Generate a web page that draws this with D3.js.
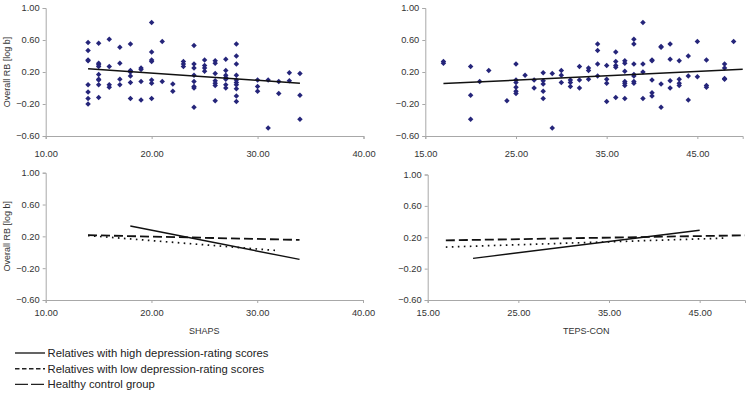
<!DOCTYPE html>
<html><head><meta charset="utf-8">
<script src="https://cdn.jsdelivr.net/npm/d3@7"></script>
<style>
html,body{margin:0;padding:0;background:#fff;}
svg text{font-family:"Liberation Sans",Arial,sans-serif;}
</style></head>
<body><svg id="c" width="750" height="403"></svg>
<script>
// ---------- data ----------
const yTicks = [-0.6, -0.2, 0.2, 0.6, 1.0];
const shapsTicks = [10, 20, 30, 40];
const tepsTicks = [15, 25, 35, 45];
const yTitle = "Overall RB [log b]";
const shapsTitle = "SHAPS";
const tepsTitle = "TEPS-CON";

// SHAPS scatter: [score, overall RB]
const shapsPoints = [
 [14,0.57],[14,0.47],[14,0.35],[14,0.34],[14,0.04],[14,-0.05],[14,-0.13],[14,-0.20],
 [15,0.56],[15,0.31],[15,0.29],[15,0.27],[15,0.17],[15,0.11],[15,0.10],[15,0.04],[15,-0.12],
 [16,0.61],[16,0.27],[16,0.04],[16,0.01],
 [17,0.51],[17,0.31],[17,0.11],[17,0.04],
 [18,0.55],[18,0.22],[18,0.20],[18,0.15],[18,0.07],[18,-0.13],
 [19,0.25],[19,0.23],[19,0.08],[19,-0.15],
 [20,0.82],[20,0.45],[20,0.35],[20,0.33],[20,0.10],[20,0.06],[20,-0.13],
 [21,0.58],[21,0.08],
 [22,0.05],[22,-0.04],
 [23,0.33],[23,0.30],[23,0.27],
 [24,0.53],[24,0.30],[24,0.25],[24,0.16],[24,0.08],[24,0.02],[24,0.00],[24,-0.24],
 [25,0.35],[25,0.28],[25,0.25],[25,0.21],
 [26,0.34],[26,0.31],[26,0.18],[26,0.09],[26,0.06],[26,0.03],[26,-0.16],
 [27,0.36],[27,0.22],[27,0.16],[27,0.13],[27,0.11],[27,0.04],[27,0.00],
 [28,0.55],[28,0.40],[28,0.30],[28,0.16],[28,0.10],[28,0.07],[28,0.04],[28,-0.01],[28,-0.10],[28,-0.17],
 [30,0.10],[30,0.02],[30,-0.04],
 [31,0.10],[31,-0.50],
 [32,0.08],[32,-0.07],
 [33,0.19],[33,0.09],
 [34,0.18],[34,-0.09],[34,-0.39]
];
// TEPS-CON scatter
const tepsPoints = [
 [17,0.33],[17,0.31],
 [20,0.27],[20,-0.09],[20,-0.39],
 [21,0.08],[22,0.22],[24,-0.16],
 [25,0.30],[25,0.10],[25,0.07],[25,0.01],[25,-0.04],[25,-0.07],
 [26,0.16],
 [27,0.10],[27,0.00],
 [28,0.19],[28,0.09],[28,0.05],[28,-0.04],[28,-0.13],
 [29,0.18],[29,-0.50],
 [30,0.22],[30,0.16],[30,0.07],
 [31,0.10],[31,0.07],[31,0.02],
 [32,0.27],[32,0.10],[32,0.00],
 [33,0.25],[33,0.22],[33,0.11],
 [34,0.55],[34,0.47],[34,0.30],[34,0.15],
 [35,0.28],[35,0.11],[35,0.06],[35,-0.17],
 [36,0.45],[36,0.33],[36,0.28],[36,0.26],[36,-0.12],
 [37,0.34],[37,0.31],[37,0.21],[37,0.08],[37,0.06],[37,0.03],[37,-0.13],
 [38,0.61],[38,0.55],[38,0.30],[38,0.17],[38,0.15],[38,0.08],[38,0.06],
 [39,0.82],[39,0.30],[39,0.20],[39,-0.13],
 [40,0.35],[40,0.34],[40,0.10],[40,-0.06],[40,-0.10],
 [41,0.52],[41,0.51],[41,0.05],[41,-0.24],
 [42,0.55],[42,0.36],[42,0.09],[42,0.00],
 [43,0.34],[43,0.11],[43,0.06],[43,0.03],
 [44,0.40],[44,0.15],[44,-0.15],
 [45,0.58],[45,0.14],
 [46,0.35],[46,0.03],[46,0.01],
 [48,0.30],[48,0.25],[48,0.12],[48,0.11],
 [49,0.58]
];
// overall fit lines (endpoints)
const shapsFit = [[14,0.24],[34,0.06]];
const tepsFit = [[17,0.055],[50,0.235]];
// group fit lines
const groups = ["Relatives with high depression-rating scores","Relatives with low depression-rating scores","Healthy control group"];
const shapsGroupFits = [ [[18,0.33],[34,-0.09]], [[14,0.21],[32,0.02]], [[14,0.215],[34,0.155]] ];
const tepsGroupFits  = [ [[20,-0.07],[45,0.29]], [[17,0.075],[48,0.19]], [[17,0.16],[50,0.225]] ];

// ---------- drawing ----------
const svg = d3.select("#c");
const axisColor = "#a8a8a8", textColor = "#333";
const dotColor = "#25257a";
const groupStyles = [
  {dash:null, w:1.4},
  {dash:"1.6,4.4", w:1.7},
  {dash:"9,4", w:1.8}
];
const legendDash = [null, "4.5,2.5", "13,3"];

function panel(o){
  const x = d3.scaleLinear().domain(o.xd).range(o.xr);
  const y = d3.scaleLinear().domain([-0.6,1.0]).range(o.yr);
  const g = svg.append("g");
  const ya = g.append("g").attr("transform",`translate(${o.xr[0]},0)`)
    .call(d3.axisLeft(y).tickValues(yTicks).tickSize(3).tickFormat(d3.format(".2f")));
  const xa = g.append("g").attr("transform",`translate(0,${o.yr[0]})`)
    .call(d3.axisBottom(x).tickValues(o.xt).tickSize(3).tickFormat(d3.format(".2f")));
  [ya,xa].forEach(a=>{
    a.select(".domain").attr("stroke",axisColor);
    a.selectAll(".tick line").attr("stroke",axisColor);
    a.selectAll("text").attr("fill",textColor).style("font-size","9.3px");
  });
  ya.selectAll("text").attr("x",-6);
  xa.selectAll("text").attr("y",o.xLabDy).attr("dy",0);
  if(o.yTitle){
    g.append("text").attr("transform",`translate(${o.yTitleX},${(o.yr[0]+o.yr[1])/2}) rotate(-90)`)
      .attr("text-anchor","middle").attr("fill",textColor).style("font-size","9px").text(o.yTitle);
  }
  if(o.xTitle){
    g.append("text").attr("x",(o.xr[0]+o.xr[1])/2).attr("y",o.xTitleY)
      .attr("text-anchor","middle").attr("fill",textColor).style("font-size","9px").text(o.xTitle);
  }
  const line = d3.line().x(d=>x(d[0])).y(d=>y(d[1]));
  if(o.points){
    const sym = d3.symbol().type(d3.symbolSquare).size(15);
    g.selectAll("path.pt").data(o.points).join("path").attr("class","pt")
      .attr("d",sym).attr("fill",dotColor)
      .attr("transform",d=>`translate(${x(d[0])},${y(d[1])}) rotate(45)`);
    g.append("path").datum(o.fit).attr("d",line).attr("stroke","#111").attr("stroke-width",1.5).attr("fill","none");
  }
  if(o.groupFits){
    o.groupFits.forEach((f,i)=>{
      g.append("path").datum(f).attr("d",line).attr("fill","none")
        .attr("stroke","#111").attr("stroke-width",groupStyles[i].w)
        .attr("stroke-dasharray",groupStyles[i].dash);
    });
  }
}

panel({xd:[10,40], xr:[45.7,363.5], yr:[136,8], xt:shapsTicks, xLabDy:21, points:shapsPoints, fit:shapsFit, yTitle:yTitle, yTitleX:9.5});
panel({xd:[15,50], xr:[425.3,742.7], yr:[136,8], xt:tepsTicks, xLabDy:21, points:tepsPoints, fit:tepsFit});
panel({xd:[10,40], xr:[45.7,363], yr:[300,172.7], xt:shapsTicks, xLabDy:16, groupFits:shapsGroupFits, yTitle:yTitle, yTitleX:9.5, xTitle:shapsTitle, xTitleY:334});
panel({xd:[15,50], xr:[427.7,745], yr:[300,174.5], xt:tepsTicks, xLabDy:16, groupFits:tepsGroupFits, xTitle:tepsTitle, xTitleY:334});

// legend
const lg = svg.append("g");
groups.forEach((name,i)=>{
  const yy = 353 + i*15.7;
  lg.append("line").attr("x1",15).attr("x2",45).attr("y1",yy).attr("y2",yy)
    .attr("stroke","#222").attr("stroke-width",1.4).attr("stroke-dasharray",legendDash[i]);
  lg.append("text").attr("x",47.5).attr("y",yy+4).attr("fill","#222")
    .style("font-size","11.3px").text(name);
});
</script></body></html>
